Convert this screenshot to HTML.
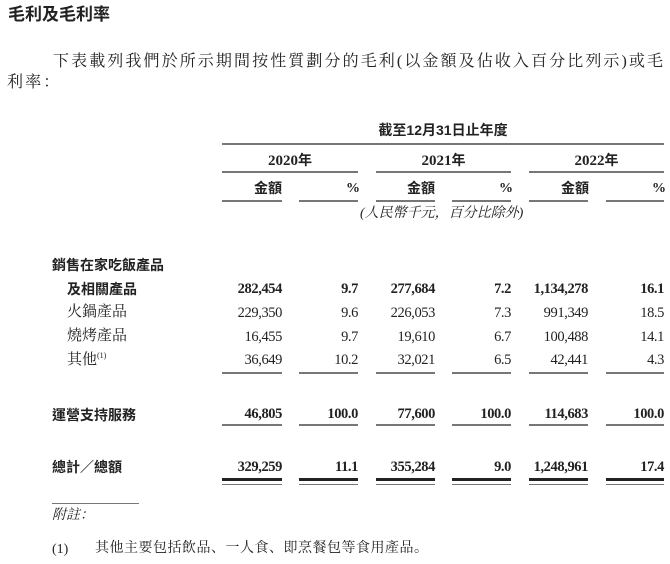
<!DOCTYPE html><html><head><meta charset="utf-8"><style>
body{margin:0;width:670px;height:564px;background:#fff;position:relative;overflow:hidden;font-family:"Liberation Serif","Noto Serif CJK SC",serif;color:#222}
.a{position:absolute;white-space:nowrap;line-height:1}
.s{font-family:"Liberation Sans","Noto Sans CJK TC",sans-serif;font-weight:bold}
.b{font-weight:bold}
.c{text-align:center}
.l{position:absolute;height:2px;background:#777}
.n{position:absolute;white-space:nowrap;line-height:1;text-align:right;font-size:14.5px;letter-spacing:-0.4px;width:80px}
.row{position:absolute;left:0;width:670px}
</style></head><body>
<div class="a s" style="left:8px;top:6px;font-size:17px">毛利及毛利率</div>
<div class="a" style="left:53px;top:54px;font-size:16px;letter-spacing:2.1px">下表載列我們於所示期間按性質劃分的毛利(以金額及佔收入百分比列示)或毛</div>
<div class="a" style="left:7px;top:75px;font-size:16px;letter-spacing:2.1px">利率：</div>
<div class="a s c" style="left:222px;width:442px;top:123px;font-size:14px">截至12月31日止年度</div>
<div class="l" style="left:222px;width:442px;top:143px"></div>
<div class="a b c" style="left:222px;width:136px;top:153px;font-size:15px">2020<span class="s" style="font-size:14px">年</span></div>
<div class="a b c" style="left:376px;width:135px;top:153px;font-size:15px">2021<span class="s" style="font-size:14px">年</span></div>
<div class="a b c" style="left:529px;width:135px;top:153px;font-size:15px">2022<span class="s" style="font-size:14px">年</span></div>
<div class="l" style="left:222px;width:136px;top:171px"></div>
<div class="l" style="left:376px;width:135px;top:171px"></div>
<div class="l" style="left:529px;width:135px;top:171px"></div>
<div class="a s" style="left:254px;top:181px;font-size:14px">金額</div>
<div class="a s" style="left:407px;top:181px;font-size:14px">金額</div>
<div class="a s" style="left:561px;top:181px;font-size:14px">金額</div>
<div class="a b" style="left:346px;top:182px;font-size:14px">%</div>
<div class="a b" style="left:499px;top:182px;font-size:14px">%</div>
<div class="a b" style="left:652px;top:182px;font-size:14px">%</div>
<div class="l" style="left:222px;width:60px;top:200px"></div><div class="l" style="left:299px;width:59px;top:200px"></div>
<div class="l" style="left:376px;width:59px;top:200px"></div><div class="l" style="left:452px;width:59px;top:200px"></div>
<div class="l" style="left:529px;width:59px;top:200px"></div><div class="l" style="left:606px;width:58px;top:200px"></div>
<div class="a" style="left:360px;top:207px;font-size:14px;font-style:italic">(人民幣千元，百分比除外)</div>

<div class="a s" style="left:52px;top:258px;font-size:14px">銷售在家吃飯產品</div>
<div class="a s" style="left:67px;top:282px;font-size:14px">及相關產品</div>
<div class="a" style="left:67px;top:305px;font-size:15px">火鍋產品</div>
<div class="a" style="left:67px;top:329px;font-size:15px">燒烤產品</div>
<div class="a" style="left:67px;top:352px;font-size:15px">其他<sup style="font-size:8px">(1)</sup></div>
<div class="a s" style="left:52px;top:408px;font-size:14px">運營支持服務</div>
<div class="a s" style="left:52px;top:460px;font-size:14px">總計／總額</div>

<div class="row" style="top:282px">
<div class="n b" style="left:202px">282,454</div><div class="n b" style="left:278px">9.7</div>
<div class="n b" style="left:355px">277,684</div><div class="n b" style="left:431px">7.2</div>
<div class="n b" style="left:508px">1,134,278</div><div class="n b" style="left:584px">16.1</div>
</div>
<div class="row" style="top:306px">
<div class="n" style="left:202px">229,350</div><div class="n" style="left:278px">9.6</div>
<div class="n" style="left:355px">226,053</div><div class="n" style="left:431px">7.3</div>
<div class="n" style="left:508px">991,349</div><div class="n" style="left:584px">18.5</div>
</div>
<div class="row" style="top:330px">
<div class="n" style="left:202px">16,455</div><div class="n" style="left:278px">9.7</div>
<div class="n" style="left:355px">19,610</div><div class="n" style="left:431px">6.7</div>
<div class="n" style="left:508px">100,488</div><div class="n" style="left:584px">14.1</div>
</div>
<div class="row" style="top:353px">
<div class="n" style="left:202px">36,649</div><div class="n" style="left:278px">10.2</div>
<div class="n" style="left:355px">32,021</div><div class="n" style="left:431px">6.5</div>
<div class="n" style="left:508px">42,441</div><div class="n" style="left:584px">4.3</div>
</div>
<div class="row" style="top:372px">
<div class="l" style="left:222px;width:60px"></div><div class="l" style="left:299px;width:59px"></div>
<div class="l" style="left:376px;width:59px"></div><div class="l" style="left:452px;width:59px"></div>
<div class="l" style="left:529px;width:59px"></div><div class="l" style="left:606px;width:58px"></div>
</div>
<div class="row" style="top:407px">
<div class="n b" style="left:202px">46,805</div><div class="n b" style="left:278px">100.0</div>
<div class="n b" style="left:355px">77,600</div><div class="n b" style="left:431px">100.0</div>
<div class="n b" style="left:508px">114,683</div><div class="n b" style="left:584px">100.0</div>
</div>
<div class="row" style="top:424px">
<div class="l" style="left:222px;width:60px"></div><div class="l" style="left:299px;width:59px"></div>
<div class="l" style="left:376px;width:59px"></div><div class="l" style="left:452px;width:59px"></div>
<div class="l" style="left:529px;width:59px"></div><div class="l" style="left:606px;width:58px"></div>
</div>
<div class="row" style="top:460px">
<div class="n b" style="left:202px">329,259</div><div class="n b" style="left:278px">11.1</div>
<div class="n b" style="left:355px">355,284</div><div class="n b" style="left:431px">9.0</div>
<div class="n b" style="left:508px">1,248,961</div><div class="n b" style="left:584px">17.4</div>
</div>
<div class="row" style="top:478px">
<div class="l" style="left:222px;width:60px;height:3px;background:#222"></div><div class="l" style="left:299px;width:59px;height:3px;background:#222"></div>
<div class="l" style="left:376px;width:59px;height:3px;background:#222"></div><div class="l" style="left:452px;width:59px;height:3px;background:#222"></div>
<div class="l" style="left:529px;width:59px;height:3px;background:#222"></div><div class="l" style="left:606px;width:58px;height:3px;background:#222"></div>
</div>
<div class="row" style="top:484px">
<div class="l" style="left:222px;width:60px;height:1px"></div><div class="l" style="left:299px;width:59px;height:1px"></div>
<div class="l" style="left:376px;width:59px;height:1px"></div><div class="l" style="left:452px;width:59px;height:1px"></div>
<div class="l" style="left:529px;width:59px;height:1px"></div><div class="l" style="left:606px;width:58px;height:1px"></div>
</div>
<div class="l" style="left:52px;width:87px;top:503px;height:1px"></div>
<div class="a" style="left:52px;top:509px;font-size:14px;font-style:italic">附註：</div>
<div class="a" style="left:52px;top:543px;font-size:14px">(1)</div>
<div class="a" style="left:95px;top:542px;font-size:14px;letter-spacing:0.5px">其他主要包括飲品、一人食、即烹餐包等食用產品。</div>
</body></html>
